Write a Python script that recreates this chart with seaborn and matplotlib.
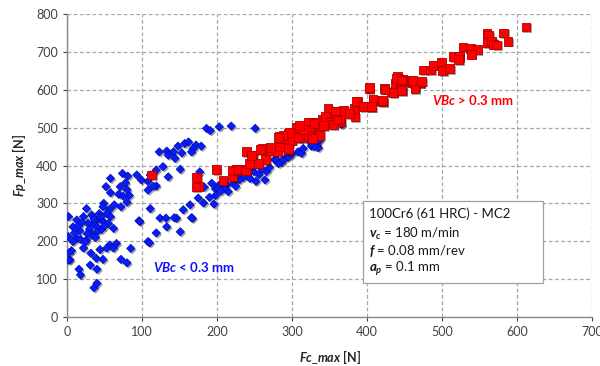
import matplotlib
matplotlib.use("Agg")
import matplotlib.pyplot as plt
import matplotlib.patheffects as pe
from matplotlib.patches import Rectangle
import seaborn as sns
import pandas as pd

# ---- data ----
blue_fc = [58, 74, 81, 93, 52, 58, 71, 78, 80, 69, 75, 83, 80, 72, 57, 49, 48, 63, 43, 53,
           58, 40, 48, 55, 62, 46, 40, 35, 33, 26, 22, 13, 2, 8, 17, 28, 33, 26, 13, 2,
           8, 40, 96, 57, 66, 53, 62, 44, 22, 6, 4, 32, 39, 48, 85, 72, 80, 31, 40, 16,
           18, 40, 36, 108, 2, 3, 15, 20, 30, 36, 44, 50, 27, 18, 10, 38, 24, 45,
           123, 133, 142, 148, 157, 162, 172, 179, 186, 153, 144, 135, 128, 119, 135, 151,
           111, 108, 119, 177, 183, 175, 182, 164, 155, 146, 124, 132, 133, 151, 119, 110,
           111, 167, 191, 203, 99, 108, 115, 193, 198, 202, 190, 198, 196, 143, 166, 97,
           168, 166, 219, 251, 202, 213, 222, 235, 249, 252, 264, 266, 215, 277, 286, 293,
           308, 313, 326, 334, 279, 288, 295, 315, 326, 335, 335, 330, 337, 366, 326,
           230, 240, 256, 270, 282, 300, 244, 260, 225, 210, 205]
blue_fp = [366, 379, 372, 375, 344, 328, 344, 354, 336, 324, 319, 321, 303, 291, 284, 300, 291, 296, 273, 273,
           265, 256, 252, 247, 234, 231, 238, 247, 269, 286, 265, 256, 265, 238, 228, 247, 216, 203, 208, 212,
           199, 225, 254, 190, 194, 182, 182, 178, 182, 175, 151, 168, 155, 152, 181, 152, 143, 137, 126, 126,
           111, 89, 77, 199, 150, 170, 240, 250, 232, 258, 262, 240, 220, 205, 222, 210, 198, 265,
           436, 438, 436, 451, 458, 462, 454, 451, 498, 433, 419, 427, 397, 388, 370, 390,
           375, 335, 346, 383, 343, 314, 301, 296, 283, 261, 261, 261, 238, 225, 222, 196,
           286, 261, 492, 502, 362, 358, 345, 353, 338, 347, 316, 321, 298, 262, 262, 252,
           444, 436, 504, 498, 340, 348, 353, 369, 384, 358, 362, 384, 331, 415, 409, 422,
           436, 432, 462, 451, 416, 414, 423, 445, 451, 447, 466, 450, 467, 508, 457,
           362, 372, 376, 395, 405, 430, 366, 390, 345, 340, 332]

red_fc = [113, 173, 175, 172, 199, 208, 221, 226, 239, 244, 239, 248, 260, 265, 271, 283, 286, 295, 295, 302,
          315, 324, 333, 328, 221, 228, 238, 243, 255, 284, 295, 296, 290, 308, 304, 300, 313, 324, 326, 336,
          334, 319, 295, 281, 326, 322, 335, 337, 327, 348, 359, 369, 353, 365, 383, 387, 384, 394, 405, 403,
          409, 423, 421, 432, 438, 445, 441, 447, 454, 461, 470, 464, 475, 485, 488, 499, 501, 515, 510, 461,
          448, 446, 471, 464, 522, 528, 612, 582, 588, 560, 562, 560, 566, 569, 573, 538, 547, 539, 523, 522,
          403, 424, 435, 446, 439, 446, 461, 473, 408, 421, 386, 395, 406, 377, 358, 352, 364, 335, 324, 306,
          297, 308, 288, 282, 283, 271, 258, 246, 322, 330, 340, 345, 350, 355, 360, 342, 315, 310]
red_fp = [375, 368, 345, 343, 389, 360, 370, 389, 389, 404, 436, 427, 445, 416, 439, 477, 458, 442, 471, 477,
          484, 502, 515, 480, 387, 389, 387, 405, 406, 457, 484, 459, 470, 497, 475, 467, 473, 494, 514, 508,
          488, 484, 445, 436, 498, 480, 507, 480, 472, 551, 542, 546, 516, 516, 551, 568, 528, 557, 555, 603,
          572, 603, 568, 594, 616, 603, 634, 627, 626, 618, 618, 607, 652, 652, 665, 673, 650, 687, 656, 621,
          621, 600, 618, 603, 687, 713, 766, 750, 728, 748, 744, 724, 727, 720, 718, 709, 706, 694, 687, 680,
          606, 601, 592, 598, 630, 626, 624, 622, 574, 571, 568, 555, 555, 537, 544, 522, 522, 509, 504, 500,
          487, 473, 479, 473, 449, 447, 442, 427, 515, 510, 522, 530, 515, 508, 520, 505, 495, 505]

groups = ["VBc < 0.3 mm", "VBc > 0.3 mm"]
x_ticks = [0, 100, 200, 300, 400, 500, 600, 700]
y_ticks = [0, 100, 200, 300, 400, 500, 600, 700, 800]

df = pd.DataFrame({
    "Fc_max": blue_fc + red_fc,
    "Fp_max": blue_fp + red_fp,
    "group": [groups[0]] * len(blue_fc) + [groups[1]] * len(red_fc),
})

# ---- style ----
sns.set_style("white")
plt.rcParams["font.family"] = ["Lato", "DejaVu Sans"]
plt.rcParams["mathtext.fontset"] = "custom"
plt.rcParams["mathtext.it"] = "Lato:italic:bold"
plt.rcParams["mathtext.rm"] = "Lato"
plt.rcParams["mathtext.bf"] = "Lato:bold"

fig = plt.figure(figsize=(6.0, 3.66), dpi=100)
ax = fig.add_axes([0.1117, 0.1339, 0.875, 0.8278])

ax.grid(True, color="#a6a6a6", linestyle=(0, (3, 2)), linewidth=0.9)
ax.set_axisbelow(True)

shadow = [pe.SimplePatchShadow(offset=(1.2, -1.2), shadow_rgbFace="#000000", alpha=0.35), pe.Normal()]

sns.scatterplot(data=df[df.group == groups[0]], x="Fc_max", y="Fp_max", ax=ax,
                marker="D", s=18, color="#0a1cff", edgecolor="#0010a0", linewidth=0.5,
                legend=False, zorder=3)
sns.scatterplot(data=df[df.group == groups[1]], x="Fc_max", y="Fp_max", ax=ax,
                marker="s", s=40, color="#ff0000", edgecolor="#b00000", linewidth=0.6,
                legend=False, zorder=4)
for coll in ax.collections:
    coll.set_path_effects(shadow)

ax.set_xlim(0, 700)
ax.set_ylim(0, 800)
ax.set_xticks(x_ticks)
ax.set_yticks(y_ticks)
ax.tick_params(axis="both", labelsize=9, colors="#404040", length=3, width=0.8, direction="out",
               left=True, bottom=True)
for s in ["top", "right"]:
    ax.spines[s].set_visible(False)
for s in ["left", "bottom"]:
    ax.spines[s].set_color("#888888")
    ax.spines[s].set_linewidth(1.0)

ax.set_xlabel(r"$Fc\_max$ [N]", fontsize=9, fontweight="bold", color="#262626", labelpad=7)
ax.set_ylabel(r"$Fp\_max$ [N]", fontsize=9, fontweight="bold", color="#262626", labelpad=6)

# annotations
ax.text(115, 131, r"$VBc$ < 0.3 mm", color="#1010ff", fontsize=9.5, fontweight="bold", va="center", ha="left")
ax.text(486, 572, r"$VBc$ > 0.3 mm", color="#ff0000", fontsize=9.5, fontweight="bold", va="center", ha="left")

box = Rectangle((394, 90), 240, 216, facecolor="white", edgecolor="#a0a0a0", linewidth=0.9, zorder=5)
ax.add_patch(box)
tx = 402
ax.text(tx, 272, "100Cr6 (61 HRC) - MC2", fontsize=9.5, va="center", ha="left", zorder=6, color="#1a1a1a")
ax.text(tx, 220, r"$v_c$ = 180 m/min", fontsize=9.5, va="center", ha="left", zorder=6, color="#1a1a1a")
ax.text(tx, 175, r"$f$ = 0.08 mm/rev", fontsize=9.5, va="center", ha="left", zorder=6, color="#1a1a1a")
ax.text(tx, 128, r"$a_p$ = 0.1 mm", fontsize=9.5, va="center", ha="left", zorder=6, color="#1a1a1a")

fig.savefig("out.png", dpi=100)
